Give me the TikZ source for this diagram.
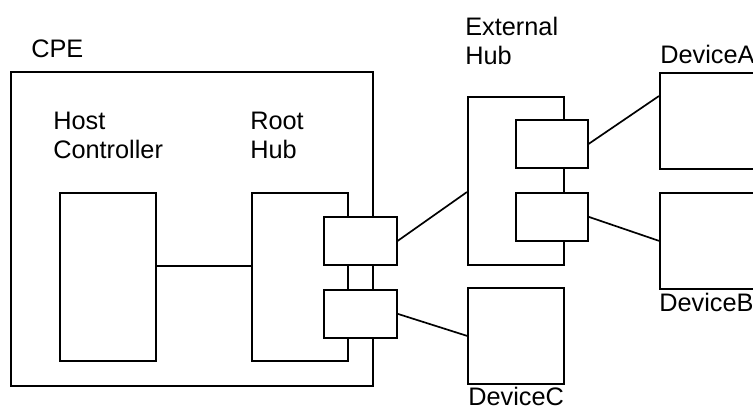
\documentclass[tikz,border=0pt]{standalone}
\usepackage{fontspec}
\setmainfont{Liberation Sans}

\tikzset{
  box/.style={draw, line width=1.2pt, fill=white, inner sep=0pt, anchor=north west},
  port/.style={box, minimum width=1.825cm, minimum height=1.2cm},
  unit/.style={box, minimum width=2.4cm, minimum height=4.2cm},
  device/.style={box, minimum width=2.4cm, minimum height=2.4cm},
  lbl/.style={inner sep=0pt, anchor=north west, align=left, font=\fontsize{18pt}{20.5pt}\selectfont},
  link/.style={line width=1.2pt}
}

\begin{document}
\begin{tikzpicture}[x=0.025cm, y=-0.025cm]
  \useasboundingbox (0,0) rectangle (753,407);
  \clip (0,0) rectangle (753,407);

  % CPE with host controller and root hub
  \node[box, minimum width=9.05cm, minimum height=7.85cm] (cpe) at (10,71) {};
  \node[lbl] (cpelbl) at (31,40) {CPE};
  \node[unit] (hc) at (59,192) {};
  \node[lbl] (hclbl) at (53,112) {Host\\Controller};
  \node[unit] (rh) at (251,192) {};
  \node[lbl] (rhlbl) at (250,112) {Root\\Hub};

  % Root hub ports
  \node[port] (rhp1) at (323,216) {};
  \node[port] (rhp2) at (323,289) {};

  % External hub and its ports
  \node[unit] (exthub) at (467,96) {};
  \node[lbl] (exthublbl) at (465,17) {External\\Hub};
  \node[port, minimum width=1.8cm] (exp1) at (515,119) {};
  \node[port, minimum width=1.8cm] (exp2) at (515,192) {};

  % Devices
  \node[device] (deva) at (659,72) {};
  \node[lbl] (devalbl) at (660,45) {DeviceA};
  \node[device] (devb) at (659,192) {};
  \node[lbl] (devblbl) at (659,293) {DeviceB};
  \node[device] (devc) at (467,287) {};
  \node[lbl] (devclbl) at (468,387) {DeviceC};

  % Links
  \draw[link] (hc.east |- rhp1.south) -- (rh.west |- rhp1.south);
  \draw[link] (rhp1.east) -- (exthub.west |- exp2.north);
  \draw[link] (rhp2.east) -- (devc.west);
  \draw[link] (exp1.east) -- (deva.west |- exthub.north);
  \draw[link] (exp2.east) -- (devb.west);
\end{tikzpicture}
\end{document}
